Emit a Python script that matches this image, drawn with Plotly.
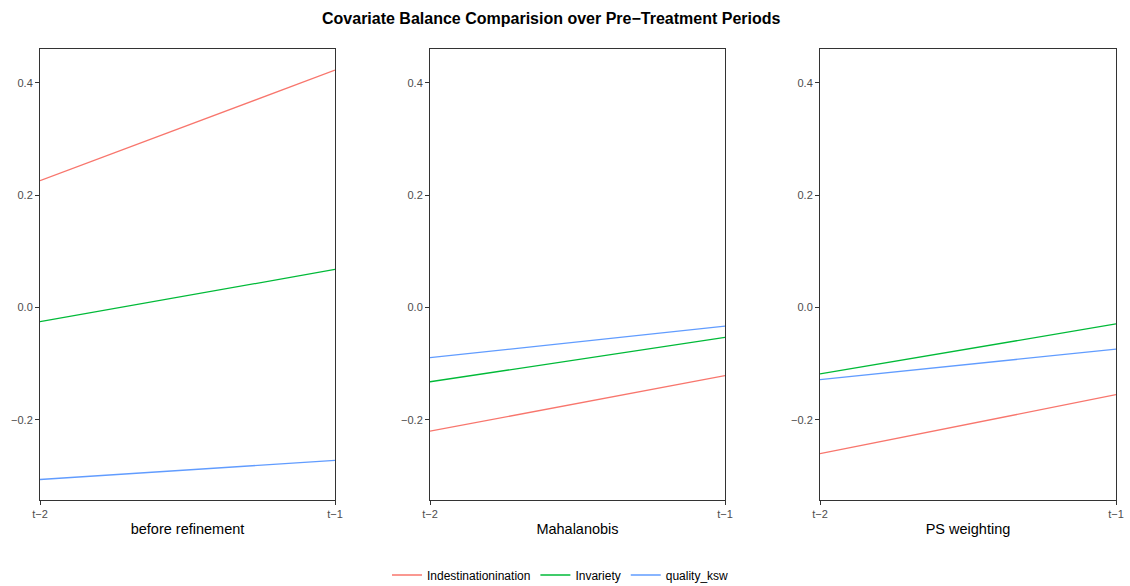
import plotly.graph_objects as go

periods = ["t−2", "t−1"]
panels = ["before refinement", "Mahalanobis", "PS weighting"]
series = ["Indestinationination", "Invariety", "quality_ksw"]
colors = ["#F8766D", "#00BA38", "#619CFF"]

# values[panel][series] = [t-2, t-1]
before_refinement = {
    "Indestinationination": [0.226, 0.423],
    "Invariety": [-0.025, 0.068],
    "quality_ksw": [-0.306, -0.272],
}
mahalanobis = {
    "Indestinationination": [-0.220, -0.121],
    "Invariety": [-0.132, -0.053],
    "quality_ksw": [-0.089, -0.033],
}
ps_weighting = {
    "Indestinationination": [-0.260, -0.155],
    "Invariety": [-0.118, -0.029],
    "quality_ksw": [-0.128, -0.074],
}
panel_data = [before_refinement, mahalanobis, ps_weighting]
y_ticks = [-0.2, 0.0, 0.2, 0.4]
y_tick_text = ["−0.2", "0.0", "0.2", "0.4"]

W, H = 1130, 586
FONT = "Liberation Sans, Arial, sans-serif"
fig = go.Figure()

x_domains_px = [(40, 335), (430, 725), (820, 1116)]
y_dom = [1 - 500 / H, 1 - 49 / H]

for i, (pname, pdata) in enumerate(zip(panels, panel_data)):
    xa = "x" if i == 0 else f"x{i+1}"
    ya = "y" if i == 0 else f"y{i+1}"
    for s, c in zip(series, colors):
        fig.add_trace(go.Scatter(
            x=periods, y=pdata[s], mode="lines", name=s,
            line=dict(color=c, width=1.3),
            legendgroup=s, showlegend=(i == 0),
            xaxis=xa, yaxis=ya,
        ))
    sfx = "" if i == 0 else str(i + 1)
    x0, x1 = x_domains_px[i]
    fig.update_layout(**{
        f"xaxis{sfx}": dict(
            domain=[x0 / W, x1 / W], anchor=ya, type="category",
            range=[0, 1], showgrid=False, zeroline=False, automargin=False,
            showline=True, linecolor="#333333", linewidth=1, mirror=True,
            ticks="outside", ticklen=4, tickcolor="#333333",
            tickfont=dict(family=FONT, size=11, color="#4D4D4D"),
            title=dict(text=pname, font=dict(family=FONT, size=14.5, color="#000000"), standoff=4),
        ),
        f"yaxis{sfx}": dict(
            domain=y_dom, anchor=xa, range=[-0.3425, 0.4605],
            showgrid=False, zeroline=False, automargin=False,
            showline=True, linecolor="#333333", linewidth=1, mirror=True,
            ticks="outside", ticklen=4, tickcolor="#333333",
            tickvals=y_ticks, ticktext=y_tick_text,
            tickfont=dict(family=FONT, size=11, color="#4D4D4D"),
        ),
    })

fig.add_annotation(
    text="<b>Covariate Balance Comparision over Pre−Treatment Periods</b>",
    x=551 / W, y=1 - 18 / H, xref="paper", yref="paper",
    xanchor="center", yanchor="middle", showarrow=False,
    font=dict(family=FONT, size=16, color="#000000"),
)

fig.update_layout(
    width=W, height=H,
    margin=dict(l=0, r=0, t=0, b=0, autoexpand=False),
    paper_bgcolor="white", plot_bgcolor="white",
    legend=dict(
        orientation="h", x=0.496, xanchor="center", y=1 - 575 / H, yanchor="middle",
        font=dict(family=FONT, size=12, color="#000000"),
        itemwidth=30, tracegroupgap=0,
        bgcolor="rgba(0,0,0,0)",
    ),
    font=dict(family=FONT),
)

fig.write_html("out.html")
